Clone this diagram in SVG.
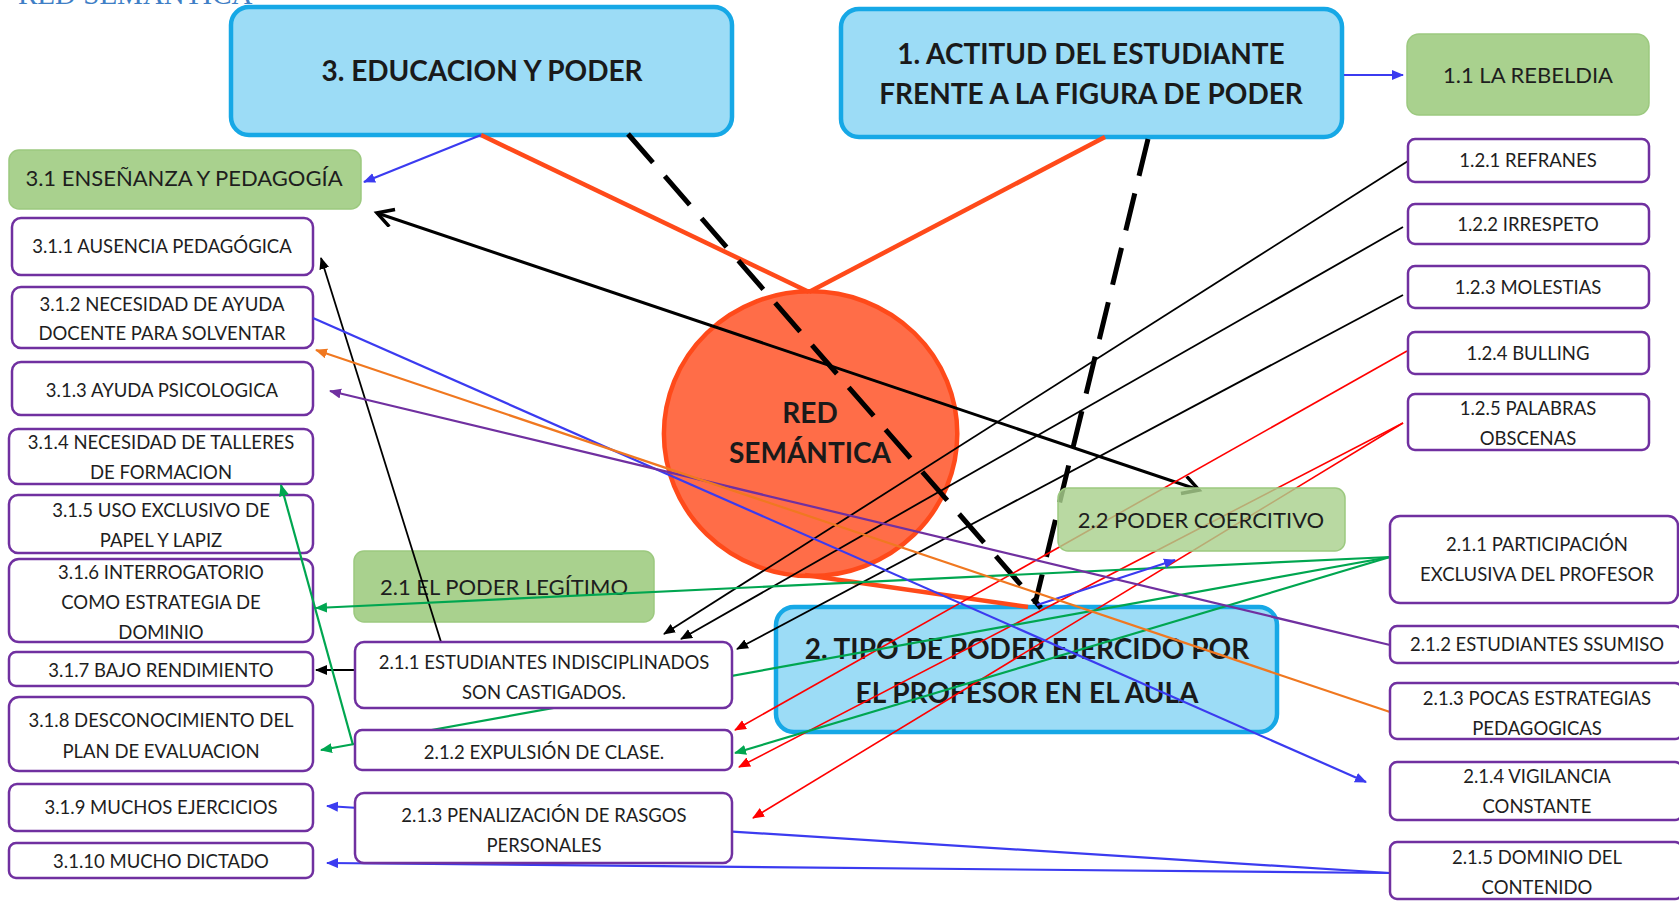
<svg xmlns="http://www.w3.org/2000/svg" width="1679" height="902" viewBox="0 0 1679 902">
<style>
.bluebox{fill:#9CDCF6;stroke:#16A8E6;stroke-width:4.5}
.greenbox{fill:#A9D18E;stroke:#9CC97F;stroke-width:1.5}
.pbox{fill:#FFFFFF;stroke:#7030A0;stroke-width:2.5}
.t{font-family:Lato,"Liberation Sans",sans-serif;font-size:18.5px;fill:#1E1E1E;text-anchor:middle}
.tg{font-family:Lato,"Liberation Sans",sans-serif;font-size:22px;fill:#1E1E1E;text-anchor:middle}
.tb{font-family:Lato,"Liberation Sans",sans-serif;font-size:28px;font-weight:bold;fill:#1A1A1A;text-anchor:middle}
.title{font-family:"Liberation Serif",serif;font-size:29px;fill:#3F7FC6}
.thick{stroke:#FF4A1A;stroke-width:4.5;fill:none}
.dash{stroke:#000;stroke-width:5;stroke-dasharray:38 18;fill:none}
.bk{stroke:#000;stroke-width:1.8;fill:none;marker-end:url(#aBk)}
.bk2{stroke:#000;stroke-width:3;fill:none;marker-start:url(#aBk2);marker-end:url(#aBk2)}
.rd{stroke:#FF0000;stroke-width:1.6;fill:none;marker-end:url(#aRd)}
.gr{stroke:#00A650;stroke-width:2.2;fill:none;marker-end:url(#aGr)}
.bl{stroke:#3B3BF0;stroke-width:2.2;fill:none;marker-end:url(#aBl)}
.pu{stroke:#7030A0;stroke-width:2.2;fill:none;marker-end:url(#aPu)}
.or{stroke:#F07820;stroke-width:2.2;fill:none;marker-end:url(#aOr)}
</style>
<defs>
<marker id="aBk" markerUnits="userSpaceOnUse" markerWidth="14" markerHeight="12" refX="11" refY="5" orient="auto"><path d="M0,0 L12,5 L0,10 z" fill="#000"/></marker>
<marker id="aBk2" markerUnits="userSpaceOnUse" markerWidth="24" markerHeight="22" refX="18" refY="10" orient="auto-start-reverse"><path d="M2,1 L18,10 L2,19" fill="none" stroke="#000" stroke-width="3.5"/></marker>
<marker id="aRd" markerUnits="userSpaceOnUse" markerWidth="14" markerHeight="12" refX="11" refY="5" orient="auto"><path d="M0,0 L12,5 L0,10 z" fill="#FF0000"/></marker>
<marker id="aGr" markerUnits="userSpaceOnUse" markerWidth="14" markerHeight="12" refX="11" refY="5" orient="auto"><path d="M0,0 L12,5 L0,10 z" fill="#00A650"/></marker>
<marker id="aBl" markerUnits="userSpaceOnUse" markerWidth="14" markerHeight="12" refX="11" refY="5" orient="auto"><path d="M0,0 L12,5 L0,10 z" fill="#3B3BF0"/></marker>
<marker id="aPu" markerUnits="userSpaceOnUse" markerWidth="14" markerHeight="12" refX="11" refY="5" orient="auto"><path d="M0,0 L12,5 L0,10 z" fill="#7030A0"/></marker>
<marker id="aOr" markerUnits="userSpaceOnUse" markerWidth="14" markerHeight="12" refX="11" refY="5" orient="auto"><path d="M0,0 L12,5 L0,10 z" fill="#F07820"/></marker>
</defs>
<rect width="1679" height="902" fill="#FFFFFF"/>
<text class="title" x="18" y="4">RED SEMÁNTICA</text>

<g id="red-semantica">
<ellipse cx="810.6" cy="433.7" rx="146.7" ry="142.4" fill="#FF6D48" stroke="#FF4A1A" stroke-width="4.5"/>
<text class="tb" x="810" y="423" font-size="27">RED</text>
<text class="tb" x="810" y="463" font-size="27">SEMÁNTICA</text>
</g>

<g id="n3">
<rect class="bluebox" x="231" y="7" width="501" height="128" rx="18"/>
<text class="tb" x="482" y="81">3. EDUCACION Y PODER</text>
</g>
<g id="n1">
<rect class="bluebox" x="841" y="9" width="501" height="128" rx="18"/>
<text class="tb" x="1091" y="64">1. ACTITUD DEL ESTUDIANTE</text>
<text class="tb" x="1091" y="104">FRENTE A LA FIGURA DE PODER</text>
</g>
<g id="n2">
<rect class="bluebox" x="776" y="607" width="501" height="125" rx="18"/>
<text class="tb" x="1027" y="659">2. TIPO DE PODER EJERCIDO POR</text>
<text class="tb" x="1027" y="703">EL PROFESOR EN EL AULA</text>
</g>
<g id="n2-1">
<rect class="greenbox" x="354" y="551" width="300" height="71" rx="10"/>
<text class="tg" x="504" y="595">2.1 EL PODER LEGÍTIMO</text>
</g>
<g id="n3-1">
<rect class="greenbox" x="9" y="150" width="352" height="59" rx="10"/>
<text class="tg" x="184" y="186">3.1 ENSEÑANZA Y PEDAGOGÍA</text>
</g>
<g id="n1-1">
<rect class="greenbox" x="1407" y="34" width="242" height="81" rx="12"/>
<text class="tg" x="1528" y="83">1.1 LA REBELDIA</text>
</g>

<g id="n3-1-1"><rect class="pbox" x="12" y="218" width="301" height="57" rx="9"/><text class="t" x="162" y="253">3.1.1 AUSENCIA PEDAGÓGICA</text></g>
<g id="n3-1-2"><rect class="pbox" x="12" y="287" width="301" height="61" rx="9"/><text class="t" x="162" y="311">3.1.2 NECESIDAD DE AYUDA</text><text class="t" x="162" y="340">DOCENTE PARA SOLVENTAR</text></g>
<g id="n3-1-3"><rect class="pbox" x="12" y="362" width="301" height="53" rx="9"/><text class="t" x="162" y="397">3.1.3 AYUDA PSICOLOGICA</text></g>
<g id="n3-1-4"><rect class="pbox" x="9" y="429" width="304" height="55" rx="9"/><text class="t" x="161" y="449">3.1.4 NECESIDAD DE TALLERES</text><text class="t" x="161" y="479">DE FORMACION</text></g>
<g id="n3-1-5"><rect class="pbox" x="9" y="495" width="304" height="58" rx="9"/><text class="t" x="161" y="517">3.1.5 USO EXCLUSIVO DE</text><text class="t" x="161" y="547">PAPEL Y LAPIZ</text></g>
<g id="n3-1-6"><rect class="pbox" x="9" y="559" width="304" height="83" rx="10"/><text class="t" x="161" y="579">3.1.6 INTERROGATORIO</text><text class="t" x="161" y="609">COMO ESTRATEGIA DE</text><text class="t" x="161" y="639">DOMINIO</text></g>
<g id="n3-1-7"><rect class="pbox" x="9" y="652" width="304" height="34" rx="7"/><text class="t" x="161" y="677">3.1.7 BAJO RENDIMIENTO</text></g>
<g id="n3-1-8"><rect class="pbox" x="9" y="697" width="304" height="74" rx="10"/><text class="t" x="161" y="727">3.1.8 DESCONOCIMIENTO DEL</text><text class="t" x="161" y="758">PLAN DE EVALUACION</text></g>
<g id="n3-1-9"><rect class="pbox" x="9" y="784" width="304" height="47" rx="8"/><text class="t" x="161" y="814">3.1.9 MUCHOS EJERCICIOS</text></g>
<g id="n3-1-10"><rect class="pbox" x="9" y="843" width="304" height="35" rx="7"/><text class="t" x="161" y="868">3.1.10  MUCHO DICTADO</text></g>

<g id="connectors">
<line class="thick" x1="481" y1="135" x2="809" y2="292"/>
<line class="thick" x1="1105" y1="137" x2="809" y2="292"/>
<line class="thick" x1="805" y1="575" x2="1028" y2="607"/>
<line class="dash" x1="628" y1="134" x2="1041" y2="608"/>
<line class="dash" x1="1148" y1="139" x2="1035" y2="604"/>
<line class="bk2" x1="377" y1="213" x2="1199" y2="490"/>
<line class="bk" x1="1408" y1="161" x2="664" y2="634"/>
<line class="bk" x1="1403" y1="227" x2="681" y2="639"/>
<line class="bk" x1="1403" y1="295" x2="737" y2="649"/>
<line class="bk" x1="441" y1="642" x2="321" y2="258"/>
<line class="bk" x1="355" y1="670" x2="316" y2="670" stroke-width="2.6"/>
<line class="rd" x1="1407" y1="351" x2="735" y2="730"/>
<line class="rd" x1="1403" y1="423" x2="739" y2="767"/>
<line class="rd" x1="1403" y1="423" x2="753" y2="818"/>
<line class="gr" x1="1390" y1="557" x2="316" y2="608"/>
<line class="gr" x1="1390" y1="557" x2="321" y2="750"/>
<line class="gr" x1="1390" y1="557" x2="735" y2="753"/>
<line class="gr" x1="353" y1="745" x2="281" y2="485"/>
<line class="bl" x1="481" y1="135" x2="364" y2="182"/>
<line class="bl" x1="1344" y1="75" x2="1403" y2="75"/>
<line class="bl" x1="313" y1="318" x2="1366" y2="782"/>
<line class="bl" x1="1037" y1="605" x2="1175" y2="560"/>
<line class="bl" x1="1390" y1="873" x2="327" y2="806"/>
<line class="bl" x1="1390" y1="873" x2="327" y2="863"/>
<line class="pu" x1="1390" y1="645" x2="330" y2="391"/>
<line class="or" x1="1390" y1="712" x2="316" y2="350"/>
</g>

<g id="n2-2">
<rect class="greenbox" x="1058" y="488" width="287" height="63" rx="10" fill-opacity="0.82"/>
<text class="tg" x="1201" y="528">2.2 PODER  COERCITIVO</text>
</g>

<g id="n1-2-1"><rect class="pbox" x="1408" y="139" width="241" height="43" rx="7"/><text class="t" x="1528" y="167">1.2.1 REFRANES</text></g>
<g id="n1-2-2"><rect class="pbox" x="1408" y="204" width="241" height="40" rx="7"/><text class="t" x="1528" y="231">1.2.2 IRRESPETO</text></g>
<g id="n1-2-3"><rect class="pbox" x="1408" y="266" width="241" height="42" rx="7"/><text class="t" x="1528" y="294">1.2.3 MOLESTIAS</text></g>
<g id="n1-2-4"><rect class="pbox" x="1408" y="332" width="241" height="42" rx="7"/><text class="t" x="1528" y="360">1.2.4 BULLING</text></g>
<g id="n1-2-5"><rect class="pbox" x="1408" y="394" width="241" height="56" rx="7"/><text class="t" x="1528" y="415">1.2.5 PALABRAS</text><text class="t" x="1528" y="445">OBSCENAS</text></g>

<g id="n2-1-1p"><rect class="pbox" x="1390" y="516" width="288" height="87" rx="10"/><text class="t" x="1537" y="551">2.1.1 PARTICIPACIÓN</text><text class="t" x="1537" y="581">EXCLUSIVA DEL PROFESOR</text></g>
<g id="n2-1-2s"><rect class="pbox" x="1390" y="626" width="292" height="37" rx="7"/><text class="t" x="1537" y="651">2.1.2 ESTUDIANTES SSUMISO</text></g>
<g id="n2-1-3p"><rect class="pbox" x="1390" y="683" width="292" height="56" rx="7"/><text class="t" x="1537" y="705">2.1.3 POCAS ESTRATEGIAS</text><text class="t" x="1537" y="735">PEDAGOGICAS</text></g>
<g id="n2-1-4v"><rect class="pbox" x="1390" y="762" width="292" height="58" rx="7"/><text class="t" x="1537" y="783">2.1.4 VIGILANCIA</text><text class="t" x="1537" y="813">CONSTANTE</text></g>
<g id="n2-1-5d"><rect class="pbox" x="1390" y="842" width="292" height="57" rx="7"/><text class="t" x="1537" y="864">2.1.5 DOMINIO DEL</text><text class="t" x="1537" y="894">CONTENIDO</text></g>

<g id="n2-1-1e"><rect class="pbox" x="355" y="642" width="377" height="66" rx="9"/><text class="t" x="544" y="669">2.1.1 ESTUDIANTES INDISCIPLINADOS</text><text class="t" x="544" y="699">SON CASTIGADOS.</text></g>
<g id="n2-1-2e"><rect class="pbox" x="355" y="730" width="377" height="40" rx="7"/><text class="t" x="544" y="759">2.1.2 EXPULSIÓN  DE CLASE.</text></g>
<g id="n2-1-3e"><rect class="pbox" x="355" y="793" width="377" height="70" rx="9"/><text class="t" x="544" y="822">2.1.3 PENALIZACIÓN DE RASGOS</text><text class="t" x="544" y="852">PERSONALES</text></g>
</svg>
